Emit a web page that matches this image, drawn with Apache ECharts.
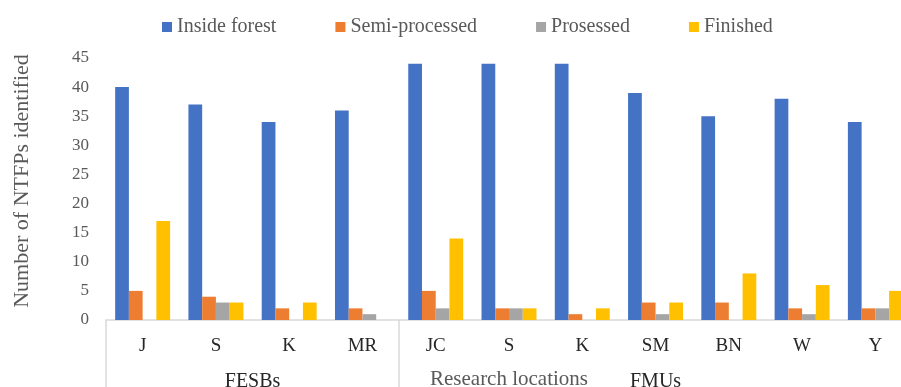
<!DOCTYPE html>
<html>
<head>
<meta charset="utf-8">
<script src="https://cdn.jsdelivr.net/npm/echarts@6/dist/echarts.min.js"></script>
<style>
  html, body { margin: 0; padding: 0; background: #ffffff; overflow: hidden; }
  #chart { width: 912px; height: 387px; }
</style>
</head>
<body>
<div id="chart"></div>
<script>
// Research sites, grouped by site type
const categories = ['J', 'S', 'K', 'MR', 'JC', 'S', 'K', 'SM', 'BN', 'W', 'Y'];
const groupNames = ['FESBs', 'FMUs'];
const groupSizes = [4, 7];

// Number of NTFPs identified per site, by stage
const seriesNames = ['Inside forest', 'Semi-processed', 'Prosessed', 'Finished'];
const insideForest  = [40, 37, 34, 36, 44, 44, 44, 39, 35, 38, 34];
const semiProcessed = [5, 4, 2, 2, 5, 2, 1, 3, 3, 2, 2];
const prosessed     = [0, 3, 0, 1, 2, 2, 0, 1, 0, 1, 2];
const finished      = [17, 3, 3, 0, 14, 2, 2, 3, 8, 6, 5];

const yTicks = { min: 0, max: 45, interval: 5 };

const colors = ['#4472C4', '#ED7D31', '#A5A5A5', '#FFC000'];
const textColor = '#595959';
const lineColor = '#D9D9D9';
const font = '"Liberation Serif", "Times New Roman", serif';

// Group boundaries and group centres, in category units
const boundaries = [0];
const centres = [];
groupSizes.forEach(function (n) {
  const start = boundaries[boundaries.length - 1];
  centres.push(start + n / 2);
  boundaries.push(start + n);
});

const chart = echarts.init(document.getElementById('chart'), null, { renderer: 'canvas' });

const values = [insideForest, semiProcessed, prosessed, finished];

chart.setOption({
  animation: false,
  backgroundColor: '#ffffff',
  textStyle: { fontFamily: font, color: textColor },
  color: colors,
  legend: {
    left: 157,
    top: 12,
    itemWidth: 10,
    itemHeight: 10,
    itemGap: 59,
    icon: 'rect',
    textStyle: { fontFamily: font, fontSize: 20, color: textColor },
    data: seriesNames
  },
  grid: { left: 106, right: 0, top: 58, bottom: 67, containLabel: false, outerBoundsMode: 'none' },
  xAxis: [
    {
      type: 'category',
      data: categories,
      position: 'bottom',
      axisLine: { show: true, lineStyle: { color: lineColor, width: 1.5 } },
      axisTick: { show: false },
      axisLabel: { fontFamily: font, fontSize: 19, color: '#262626', margin: 17, interval: 0 },
      name: 'Research locations',
      nameLocation: 'middle',
      nameGap: 49,
      nameTextStyle: { fontFamily: font, fontSize: 21, color: textColor }
    },
    {
      type: 'value',
      min: 0,
      max: categories.length,
      position: 'bottom',
      axisLine: { show: false },
      splitLine: { show: false },
      axisTick: {
        show: true,
        customValues: boundaries,
        length: 67,
        lineStyle: { color: lineColor, width: 1.5 }
      },
      axisLabel: {
        customValues: centres,
        formatter: function (v) {
          const i = centres.indexOf(v);
          return i >= 0 ? groupNames[i] : '';
        },
        fontFamily: font,
        fontSize: 20,
        color: '#262626',
        margin: 52
      }
    }
  ],
  yAxis: {
    type: 'value',
    min: yTicks.min,
    max: yTicks.max,
    interval: yTicks.interval,
    axisLine: { show: false },
    axisTick: { show: false },
    splitLine: { show: false },
    axisLabel: { fontFamily: font, fontSize: 17, color: textColor, margin: 17 },
    name: 'Number of NTFPs identified',
    nameLocation: 'middle',
    nameGap: 73,
    nameRotate: 90,
    nameTextStyle: { fontFamily: font, fontSize: 22, color: textColor, padding: [0, 0, 0, 16] }
  },
  series: seriesNames.map(function (name, i) {
    return {
      name: name,
      type: 'bar',
      xAxisIndex: 0,
      data: values[i],
      barGap: '0%',
      barCategoryGap: '25%',
      itemStyle: { color: colors[i] }
    };
  })
});
</script>
</body>
</html>
